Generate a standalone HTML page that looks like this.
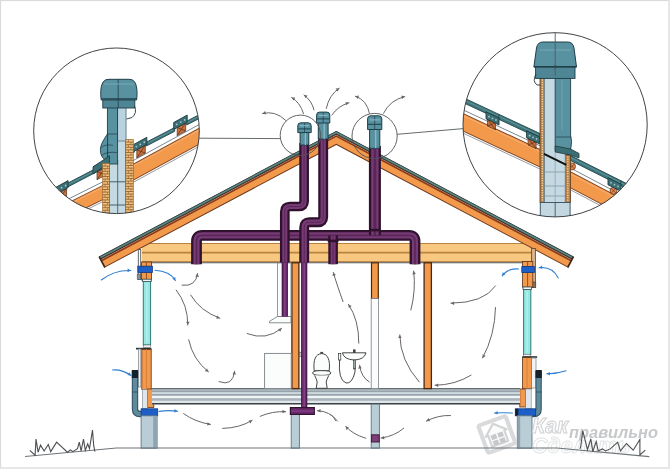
<!DOCTYPE html>
<html><head><meta charset="utf-8"><title>Ventilation diagram</title>
<style>html,body{margin:0;padding:0;background:#fff;width:670px;height:469px;overflow:hidden;font-family:"Liberation Sans",sans-serif}svg{display:block;filter:blur(0.45px)}</style>
</head><body>
<svg width="670" height="469" viewBox="0 0 670 469">
<rect x="0" y="0" width="670" height="469" fill="#ffffff"/>
<rect x="142" y="243" width="390.6" height="19.4" fill="#f9c880"/>
<line x1="142" y1="243.5" x2="532.6" y2="243.5" stroke="#b98240" stroke-width="1"/>
<line x1="142" y1="252.6" x2="532.6" y2="252.6" stroke="#b98240" stroke-width="1.6"/>
<line x1="142" y1="261.6" x2="532.6" y2="261.6" stroke="#b98240" stroke-width="1"/>
<line x1="142" y1="262.8" x2="532.6" y2="262.8" stroke="#50545a" stroke-width="1.1"/>
<line x1="532.4" y1="243" x2="532.4" y2="263" stroke="#b98240" stroke-width="1"/>
<polygon points="99.1,256.6 336.3,130.9 573.5,256.6 567.7,267.5 336.3,144.9 104.9,267.5" fill="#6b3a1e"/>
<polygon points="99.1,256.6 336.3,130.9 573.5,256.6 572.2,259 336.3,134 100.4,259" fill="#2a4648"/>
<polygon points="99.4,257.2 336.3,131.7 573.2,257.2 572.5,258.6 336.3,133.4 100.1,258.6" fill="#5f8886"/>
<polygon points="100.4,259 336.3,134 572.2,259 571.9,259.6 336.3,134.7 100.7,259.6" fill="#3b2a25"/>
<polygon points="100.7,259.6 336.3,134.7 571.9,259.6 571.6,260.2 336.3,135.5 101,260.2" fill="#d49c84"/>
<polygon points="101,260.2 336.3,135.5 571.6,260.2 570.9,261.5 336.3,137.2 101.7,261.5" fill="#8a3e1c"/>
<polygon points="101.7,261.5 336.3,137.1 570.9,261.5 568.2,266.7 336.3,143.8 104.4,266.7" fill="#f3994c"/>
<line x1="99.1" y1="256.6" x2="104.9" y2="267.5" stroke="#3a2418" stroke-width="1.6"/>
<line x1="573.5" y1="256.6" x2="567.7" y2="267.5" stroke="#3a2418" stroke-width="1.6"/>
<rect x="138.3" y="249.5" width="2.4" height="30" fill="#fafafa" stroke="#50575c" stroke-width="0.9"/>
<rect x="137.2" y="274" width="3.4" height="5.5" fill="#8a8f94" stroke="#4e5358" stroke-width="0.6"/>
<rect x="141.6" y="262" width="10" height="5" fill="#f3994c" stroke="#5a3018" stroke-width="0.8"/>
<rect x="141.6" y="272" width="10" height="8" fill="#f3994c" stroke="#5a3018" stroke-width="0.8"/>
<line x1="146.4" y1="262.3" x2="146.4" y2="266.2" stroke="#7a3e18" stroke-width="0.8"/>
<line x1="146.4" y1="272.5" x2="146.4" y2="279.5" stroke="#7a3e18" stroke-width="0.8"/>
<rect x="137.8" y="266.2" width="14.6" height="6.2" fill="#1d5fc6" stroke="#0e3b86" stroke-width="0.8"/>
<rect x="143.3" y="281" width="7.3" height="64" fill="#98e6e1" stroke="#2f7a79" stroke-width="1"/>
<line x1="146.9" y1="283" x2="146.9" y2="343" stroke="#b4f2ee" stroke-width="1.2"/>
<rect x="143.3" y="345" width="7.3" height="2.6" fill="#f6f8f8" stroke="#555" stroke-width="0.5"/>
<rect x="142.6" y="279.2" width="8.6" height="2.4" fill="#f4f7f7" stroke="#2d4d55" stroke-width="0.8"/>
<rect x="136" y="347.8" width="15.4" height="1.7" fill="#2e3236"/>
<rect x="141.8" y="349.5" width="9.4" height="40" fill="#f3994c" stroke="#5a3018" stroke-width="0.8"/>
<line x1="146.5" y1="349" x2="146.5" y2="389" stroke="#d27a36" stroke-width="0.8"/>
<rect x="138.4" y="349" width="2.4" height="38" fill="#f0f2f3" stroke="#7a8086" stroke-width="0.7"/>
<rect x="147.4" y="389" width="6.4" height="18.5" fill="#f3994c" stroke="#5a3018" stroke-width="0.8"/>
<rect x="142.4" y="389.5" width="5" height="19" fill="#dfe6ea" stroke="#7a8490" stroke-width="0.6"/>
<path d="M135,371 V409 Q135,414 140,414 H142" fill="none" stroke="#33566a" stroke-width="6.4" stroke-linejoin="round"/>
<path d="M135,371 V409 Q135,414 140,414 H142" fill="none" stroke="#5f8a9c" stroke-width="4.2"/>
<rect x="131.8" y="370" width="6.2" height="8" fill="#16222a"/>
<line x1="132" y1="392" x2="138" y2="392" stroke="#2a4a5a" stroke-width="0.8"/>
<rect x="141.1" y="408.8" width="16.6" height="7" fill="#1d5fc6" stroke="#0e3b86" stroke-width="0.8"/>
<rect x="141.1" y="415.8" width="16" height="32.4" fill="#b9cdd6" stroke="#5f7685" stroke-width="0.9"/>
<rect x="153.2" y="416.2" width="3.6" height="31.6" fill="#8fa3b1"/>
<rect x="531.6" y="248.5" width="3.8" height="38.8" fill="#d9b48e" stroke="#6b4a30" stroke-width="0.9"/>
<rect x="532.4" y="282" width="3.4" height="5.5" fill="#8a7060" stroke="#4e3a2a" stroke-width="0.6"/>
<rect x="522.6" y="261.4" width="10.2" height="5.2" fill="#f3994c" stroke="#5a3018" stroke-width="0.8"/>
<rect x="522.6" y="272.2" width="10.2" height="15" fill="#f3994c" stroke="#5a3018" stroke-width="0.8"/>
<line x1="527.6" y1="273" x2="527.6" y2="286.5" stroke="#7a3e18" stroke-width="0.8"/>
<line x1="527.6" y1="261.8" x2="527.6" y2="266.6" stroke="#7a3e18" stroke-width="0.8"/>
<rect x="521.8" y="266.6" width="12.6" height="5.8" fill="#1d5fc6" stroke="#0e3b86" stroke-width="0.8"/>
<rect x="523.6" y="289" width="7.2" height="65.5" fill="#98e6e1" stroke="#2f7a79" stroke-width="1"/>
<line x1="527.2" y1="291" x2="527.2" y2="352.5" stroke="#b4f2ee" stroke-width="1.2"/>
<rect x="523.6" y="354.2" width="7.2" height="2" fill="#f6f8f8" stroke="#555" stroke-width="0.5"/>
<rect x="523" y="287" width="8.4" height="2.4" fill="#f4f7f7" stroke="#2d4d55" stroke-width="0.8"/>
<rect x="522.2" y="356.2" width="15" height="1.6" fill="#2e3236"/>
<rect x="522.6" y="357.6" width="8.8" height="31.2" fill="#f3994c" stroke="#5a3018" stroke-width="0.8"/>
<line x1="527" y1="358" x2="527" y2="388" stroke="#d27a36" stroke-width="0.8"/>
<rect x="531.6" y="358" width="4.4" height="30" fill="#f0f2f3" stroke="#7a8086" stroke-width="0.7"/>
<rect x="519.8" y="389" width="5.8" height="18" fill="#f3994c" stroke="#5a3018" stroke-width="0.8"/>
<rect x="525.6" y="389" width="5.6" height="20" fill="#dfe6ea" stroke="#7a8490" stroke-width="0.6"/>
<path d="M538.6,371 V409 Q538.6,414 533.6,414 H532" fill="none" stroke="#33566a" stroke-width="6.4"/>
<path d="M538.6,371 V409 Q538.6,414 533.6,414 H532" fill="none" stroke="#5f8a9c" stroke-width="4.2"/>
<rect x="535.6" y="370" width="6.2" height="8" fill="#16222a"/>
<line x1="536" y1="392" x2="541.5" y2="392" stroke="#2a4a5a" stroke-width="0.8"/>
<rect x="515.3" y="408.8" width="20.4" height="7" fill="#1d5fc6" stroke="#0e3b86" stroke-width="0.8"/>
<rect x="515.3" y="408.8" width="3" height="7" fill="#152033"/>
<rect x="517.3" y="415.8" width="14.7" height="32.4" fill="#b9cdd6" stroke="#5f7685" stroke-width="0.9"/>
<rect x="517.6" y="416.2" width="2.6" height="31.6" fill="#8fa3b1"/>
<rect x="152" y="388.2" width="368" height="16.3" fill="#dfe6ea"/>
<line x1="152" y1="388.9" x2="520" y2="388.9" stroke="#3a4448" stroke-width="1.3"/>
<line x1="152" y1="390.2" x2="520" y2="390.2" stroke="#d5dde1" stroke-width="1.0"/>
<line x1="152" y1="391.1" x2="520" y2="391.1" stroke="#7f8c94" stroke-width="1.2"/>
<line x1="152" y1="392.9" x2="520" y2="392.9" stroke="#c8d4da" stroke-width="1.8"/>
<line x1="152" y1="394.9" x2="520" y2="394.9" stroke="#9aa6ae" stroke-width="1.8"/>
<line x1="152" y1="397" x2="520" y2="397" stroke="#f2f5f6" stroke-width="1.8"/>
<line x1="152" y1="399.5" x2="520" y2="399.5" stroke="#a8b2b8" stroke-width="2.6"/>
<line x1="152" y1="401.8" x2="520" y2="401.8" stroke="#e0e6e8" stroke-width="1.2"/>
<line x1="152" y1="403.7" x2="520" y2="403.7" stroke="#3c4448" stroke-width="1.5"/>
<rect x="291.9" y="262.8" width="7" height="125.8" fill="#f3994c" stroke="#4a2810" stroke-width="1.3"/>
<rect x="371.5" y="262.8" width="6.8" height="35.8" fill="#f3994c" stroke="#4a2810" stroke-width="1.2"/>
<rect x="371.2" y="298.6" width="7.2" height="90" fill="#fbfcfc" stroke="#7b8187" stroke-width="0.8"/>
<rect x="424.1" y="262.8" width="7.3" height="125.8" fill="#f3994c" stroke="#4a2810" stroke-width="1.3"/>
<rect x="277.4" y="263" width="13.6" height="53.5" fill="#fbfcfc" stroke="#7b8187" stroke-width="0.8"/>
<path d="M277.4,316.5 L269.4,321.4 L269.4,322.8 L291,322.8 L291,316.5 Z" fill="#fbfcfc" stroke="#6b7177" stroke-width="0.8"/>
<rect x="264.6" y="353.4" width="26.6" height="35.2" fill="#fbfcfc" stroke="#7b8187" stroke-width="0.9"/>
<path d="M314.2,370.8 C313,360 315.5,353.8 321.7,353.6 C327.9,353.8 330.4,360 329.2,370.8 Z" fill="#fbfcfc" stroke="#333" stroke-width="0.9"/>
<rect x="320.3" y="351.9" width="2.8" height="1.8" fill="#444"/>
<path d="M312.6,372.9 Q312.6,370.6 321.7,370.6 Q330.8,370.6 330.8,372.9 Q330.8,375.4 321.7,375.4 Q312.6,375.4 312.6,372.9 Z" fill="#fbfcfc" stroke="#333" stroke-width="0.9"/>
<path d="M314.6,375.4 Q316.8,379.5 317.2,382 L316.2,388.3 L327.2,388.3 L326.2,382 Q326.6,379.5 328.8,375.4" fill="#fbfcfc" stroke="#333" stroke-width="0.9"/>
<rect x="299.6" y="352.2" width="3.6" height="4.2" fill="#c9cfd3" stroke="#555" stroke-width="0.6"/>
<path d="M342.4,352.8 L366,352.8 Q364.4,359.6 354.2,360 Q344,359.6 342.4,352.8 Z" fill="#fbfcfc" stroke="#333" stroke-width="0.9"/>
<rect x="353" y="349.4" width="2.6" height="3.6" fill="#444"/>
<rect x="353.6" y="360" width="2" height="9" fill="#9aa" stroke="#333" stroke-width="0.6"/>
<rect x="338.4" y="353.4" width="2.4" height="6.6" fill="#fbfcfc" stroke="#333" stroke-width="0.7"/>
<path d="M339.6,360 Q338,380 346,383 Q352,384 355,372 L355,368" fill="none" stroke="#333" stroke-width="0.9"/>
<rect x="291.2" y="414.4" width="8.2" height="33.8" fill="#b9cdd6" stroke="#5f7685" stroke-width="0.9"/>
<rect x="371.2" y="404.2" width="8.2" height="44" fill="#b9cdd6" stroke="#5f7685" stroke-width="0.9"/>
<rect x="371.4" y="434.8" width="7.8" height="7.2" fill="#7e3c78" stroke="#3a1838" stroke-width="0.9"/>
<path d="M284.8,262 V316.5" fill="none" stroke="#3a1440" stroke-width="6.2"/>
<path d="M284.8,262 V316.5" fill="none" stroke="#692a6c" stroke-width="4.4"/>
<path d="M284.8,262 V316.5" fill="none" stroke="#94529a" stroke-width="1.2" opacity="0.7"/>
<path d="M304.2,262 V408" fill="none" stroke="#3a1440" stroke-width="6.2"/>
<path d="M304.2,262 V408" fill="none" stroke="#692a6c" stroke-width="4.4"/>
<path d="M304.2,262 V408" fill="none" stroke="#94529a" stroke-width="1.2" opacity="0.7"/>
<path d="M196.5,264.2 V241 Q196.5,235.4 202.3,235.4 H409.2 Q415,235.4 415,241 V264.2" fill="none" stroke="#30112e" stroke-width="10.8" stroke-linejoin="round"/>
<path d="M196.5,264.2 V241 Q196.5,235.4 202.3,235.4 H409.2 Q415,235.4 415,241 V264.2" fill="none" stroke="#763a74" stroke-width="6.200000000000001" stroke-linejoin="round"/>
<path d="M196.5,264.2 V241 Q196.5,235.4 202.3,235.4 H409.2 Q415,235.4 415,241 V264.2" fill="none" stroke="#5a2657" stroke-width="1.6000000000000014" stroke-linejoin="round"/>
<path d="M333.1,235.4 V264.2" fill="none" stroke="#30112e" stroke-width="9.6" stroke-linejoin="round"/>
<path d="M333.1,235.4 V264.2" fill="none" stroke="#763a74" stroke-width="5.0" stroke-linejoin="round"/>
<path d="M333.1,235.4 V264.2" fill="none" stroke="#5a2657" stroke-width="1.0" stroke-linejoin="round"/>
<path d="M374.9,146 V235.2" fill="none" stroke="#30112e" stroke-width="12" stroke-linejoin="round"/>
<path d="M374.9,146 V235.2" fill="none" stroke="#763a74" stroke-width="7.4" stroke-linejoin="round"/>
<path d="M374.9,146 V235.2" fill="none" stroke="#5a2657" stroke-width="2.8000000000000007" stroke-linejoin="round"/>
<path d="M323.2,137 V217 Q323.2,222.2 318,222.2 H309.4 Q304.2,222.2 304.2,227.4 V262.6" fill="none" stroke="#30112e" stroke-width="9.9" stroke-linejoin="round"/>
<path d="M323.2,137 V217 Q323.2,222.2 318,222.2 H309.4 Q304.2,222.2 304.2,227.4 V262.6" fill="none" stroke="#763a74" stroke-width="5.300000000000001" stroke-linejoin="round"/>
<path d="M323.2,137 V217 Q323.2,222.2 318,222.2 H309.4 Q304.2,222.2 304.2,227.4 V262.6" fill="none" stroke="#5a2657" stroke-width="1.0" stroke-linejoin="round"/>
<path d="M304.1,143 V201.3 Q304.1,206.5 298.9,206.5 H290 Q284.8,206.5 284.8,211.7 V262.6" fill="none" stroke="#30112e" stroke-width="9.7" stroke-linejoin="round"/>
<path d="M304.1,143 V201.3 Q304.1,206.5 298.9,206.5 H290 Q284.8,206.5 284.8,211.7 V262.6" fill="none" stroke="#763a74" stroke-width="5.1" stroke-linejoin="round"/>
<path d="M304.1,143 V201.3 Q304.1,206.5 298.9,206.5 H290 Q284.8,206.5 284.8,211.7 V262.6" fill="none" stroke="#5a2657" stroke-width="1.0" stroke-linejoin="round"/>
<rect x="369.3" y="228.8" width="11" height="2.6" fill="#30112e"/>
<rect x="327.7" y="239.6" width="10.8" height="2.6" fill="#30112e"/>
<rect x="290.4" y="407.6" width="23.9" height="6.8" fill="#692a6c" stroke="#30112e" stroke-width="1.2"/>
<line x1="291" y1="411" x2="314" y2="411" stroke="#94529a" stroke-width="0.8"/>
<rect x="300.1" y="131.6" width="8.7" height="13.4" fill="#5892a1" stroke="#1f3e47" stroke-width="1"/>
<line x1="305.4" y1="132.6" x2="305.4" y2="145" stroke="#8fbcc8" stroke-width="1.2"/>
<path d="M297.8,132.6 V125.8 Q297.8,122.8 300.8,122.8 H308.2 Q311.2,122.8 311.2,125.8 V132.6 Z" fill="#5892a1" stroke="#1f3e47" stroke-width="1"/>
<line x1="298.3" y1="128.9" x2="310.7" y2="128.9" stroke="#1f3e47" stroke-width="1"/>
<line x1="304.5" y1="123.3" x2="304.5" y2="132.6" stroke="#1f3e47" stroke-width="0.7"/>
<line x1="299.8" y1="125.7" x2="309.2" y2="125.7" stroke="#8fbcc8" stroke-width="1"/>
<rect x="318.3" y="122" width="9.8" height="17" fill="#5892a1" stroke="#1f3e47" stroke-width="1"/>
<line x1="324.2" y1="123" x2="324.2" y2="139" stroke="#8fbcc8" stroke-width="1.2"/>
<path d="M316.6,123 V115.1 Q316.6,112.1 319.6,112.1 H326.8 Q329.8,112.1 329.8,115.1 V123 Z" fill="#5892a1" stroke="#1f3e47" stroke-width="1"/>
<line x1="317.1" y1="118.9" x2="329.2" y2="118.9" stroke="#1f3e47" stroke-width="1"/>
<line x1="323.2" y1="112.6" x2="323.2" y2="123" stroke="#1f3e47" stroke-width="0.7"/>
<line x1="318.6" y1="115.4" x2="327.8" y2="115.4" stroke="#8fbcc8" stroke-width="1"/>
<rect x="369.6" y="128.5" width="10.2" height="19.8" fill="#5892a1" stroke="#1f3e47" stroke-width="1"/>
<line x1="375.7" y1="129.5" x2="375.7" y2="148.3" stroke="#8fbcc8" stroke-width="1.2"/>
<path d="M367.6,129.5 V118.8 Q367.6,115.8 370.6,115.8 H378.8 Q381.8,115.8 381.8,118.8 V129.5 Z" fill="#5892a1" stroke="#1f3e47" stroke-width="1"/>
<line x1="368.1" y1="124.3" x2="381.3" y2="124.3" stroke="#1f3e47" stroke-width="1"/>
<line x1="374.7" y1="116.3" x2="374.7" y2="129.5" stroke="#1f3e47" stroke-width="0.7"/>
<line x1="369.6" y1="119.9" x2="379.8" y2="119.9" stroke="#8fbcc8" stroke-width="1"/>
<line x1="199.2" y1="138.2" x2="280.2" y2="138.6" stroke="#555a5e" stroke-width="0.9"/>
<line x1="397.2" y1="134.3" x2="463.4" y2="128.6" stroke="#555a5e" stroke-width="0.9"/>
<circle cx="300.4" cy="135.3" r="20.2" fill="none" stroke="#4f5458" stroke-width="0.9"/>
<circle cx="374.6" cy="136" r="22.6" fill="none" stroke="#4f5458" stroke-width="0.9"/>
<clipPath id="cl"><circle cx="116.5" cy="130.8" r="82.8"/></clipPath>
<circle cx="116.5" cy="130.8" r="82.8" fill="#ffffff"/>
<g clip-path="url(#cl)">
<polygon points="20,226.4 112,180.4 112,195.4 20,241.4" fill="#7a4220"/>
<polygon points="20,227.3 112,181.3 112,194.4 20,240.4" fill="#f3994c"/>
<line x1="20" y1="228.8" x2="112" y2="182.8" stroke="#f6b27a" stroke-width="0.9"/>
<line x1="20" y1="243" x2="112" y2="197" stroke="#8d8f92" stroke-width="0.9"/>
<line x1="20" y1="223.2" x2="112" y2="177.2" stroke="#7d878d" stroke-width="1.0"/>
<polygon points="118,172.1 210,121.8 210,138.8 118,189.1" fill="#7a4220"/>
<polygon points="118,173 210,122.7 210,137.8 118,188.1" fill="#f3994c"/>
<line x1="118" y1="174.5" x2="210" y2="124.2" stroke="#f6b27a" stroke-width="0.9"/>
<line x1="118" y1="190.7" x2="210" y2="140.4" stroke="#8d8f92" stroke-width="0.9"/>
<line x1="118" y1="168.9" x2="210" y2="118.6" stroke="#7d878d" stroke-width="1.0"/>
<polygon points="27.2,204.2 55.6,189.4 55.6,193.2 27.2,208" fill="#3f767c" stroke="#23474b" stroke-width="0.9"/>
<line x1="27.2" y1="205.8" x2="55.6" y2="191" stroke="#6f9fa6" stroke-width="0.7"/>
<polygon points="67.6,183.2 94.5,169.2 94.5,173 67.6,187" fill="#3f767c" stroke="#23474b" stroke-width="0.9"/>
<line x1="67.6" y1="184.8" x2="94.5" y2="170.8" stroke="#6f9fa6" stroke-width="0.7"/>
<polygon points="106.5,162.9 134.3,148.5 134.3,152.3 106.5,166.7" fill="#3f767c" stroke="#23474b" stroke-width="0.9"/>
<line x1="106.5" y1="164.5" x2="134.3" y2="150.1" stroke="#6f9fa6" stroke-width="0.7"/>
<polygon points="146.3,142.2 174.7,127.5 174.7,131.3 146.3,146" fill="#3f767c" stroke="#23474b" stroke-width="0.9"/>
<line x1="146.3" y1="143.8" x2="174.7" y2="129.1" stroke="#6f9fa6" stroke-width="0.7"/>
<polygon points="186.7,121.2 215.1,106.5 215.1,110.3 186.7,125" fill="#3f767c" stroke="#23474b" stroke-width="0.9"/>
<line x1="186.7" y1="122.8" x2="215.1" y2="108.1" stroke="#6f9fa6" stroke-width="0.7"/>
<polygon points="17.7,215.3 26.2,210.6 26.2,218.6 17.7,223.3" fill="#c8703e" stroke="#5e2e14" stroke-width="0.7"/>
<line x1="17.7" y1="215.3" x2="26.2" y2="218.6" stroke="#5e2e14" stroke-width="0.7"/>
<line x1="26.2" y1="210.6" x2="17.7" y2="223.3" stroke="#5e2e14" stroke-width="0.7"/>
<polygon points="14.2,210.2 27.7,202.8 27.7,209.8 14.2,217.2" fill="#3c6f75" stroke="#1d3a3e" stroke-width="0.9"/>
<circle cx="17.2" cy="212.1" r="0.9" fill="#a8c4c8"/>
<circle cx="21.2" cy="209.9" r="0.9" fill="#a8c4c8"/>
<circle cx="25.2" cy="207.7" r="0.9" fill="#a8c4c8"/>
<polygon points="58.1,193.1 66.6,188.4 66.6,196.4 58.1,201.1" fill="#c8703e" stroke="#5e2e14" stroke-width="0.7"/>
<line x1="58.1" y1="193.1" x2="66.6" y2="196.4" stroke="#5e2e14" stroke-width="0.7"/>
<line x1="66.6" y1="188.4" x2="58.1" y2="201.1" stroke="#5e2e14" stroke-width="0.7"/>
<polygon points="54.6,188 68.1,180.6 68.1,187.6 54.6,195" fill="#3c6f75" stroke="#1d3a3e" stroke-width="0.9"/>
<circle cx="57.6" cy="189.8" r="0.9" fill="#a8c4c8"/>
<circle cx="61.6" cy="187.7" r="0.9" fill="#a8c4c8"/>
<circle cx="65.6" cy="185.5" r="0.9" fill="#a8c4c8"/>
<polygon points="97,171.7 105.5,167 105.5,175 97,179.7" fill="#c8703e" stroke="#5e2e14" stroke-width="0.7"/>
<line x1="97" y1="171.7" x2="105.5" y2="175" stroke="#5e2e14" stroke-width="0.7"/>
<line x1="105.5" y1="167" x2="97" y2="179.7" stroke="#5e2e14" stroke-width="0.7"/>
<polygon points="93.5,166.6 107,159.2 107,166.2 93.5,173.6" fill="#3c6f75" stroke="#1d3a3e" stroke-width="0.9"/>
<circle cx="96.5" cy="168.5" r="0.9" fill="#a8c4c8"/>
<circle cx="100.5" cy="166.3" r="0.9" fill="#a8c4c8"/>
<circle cx="104.5" cy="164.1" r="0.9" fill="#a8c4c8"/>
<polygon points="136.8,149.8 145.3,145.1 145.3,153.1 136.8,157.8" fill="#c8703e" stroke="#5e2e14" stroke-width="0.7"/>
<line x1="136.8" y1="149.8" x2="145.3" y2="153.1" stroke="#5e2e14" stroke-width="0.7"/>
<line x1="145.3" y1="145.1" x2="136.8" y2="157.8" stroke="#5e2e14" stroke-width="0.7"/>
<polygon points="133.3,144.7 146.8,137.3 146.8,144.3 133.3,151.7" fill="#3c6f75" stroke="#1d3a3e" stroke-width="0.9"/>
<circle cx="136.3" cy="146.6" r="0.9" fill="#a8c4c8"/>
<circle cx="140.3" cy="144.4" r="0.9" fill="#a8c4c8"/>
<circle cx="144.3" cy="142.2" r="0.9" fill="#a8c4c8"/>
<polygon points="177.2,127.6 185.7,122.9 185.7,130.9 177.2,135.6" fill="#c8703e" stroke="#5e2e14" stroke-width="0.7"/>
<line x1="177.2" y1="127.6" x2="185.7" y2="130.9" stroke="#5e2e14" stroke-width="0.7"/>
<line x1="185.7" y1="122.9" x2="177.2" y2="135.6" stroke="#5e2e14" stroke-width="0.7"/>
<polygon points="173.7,122.5 187.2,115.1 187.2,122.1 173.7,129.5" fill="#3c6f75" stroke="#1d3a3e" stroke-width="0.9"/>
<circle cx="176.7" cy="124.3" r="0.9" fill="#a8c4c8"/>
<circle cx="180.7" cy="122.1" r="0.9" fill="#a8c4c8"/>
<circle cx="184.7" cy="119.9" r="0.9" fill="#a8c4c8"/>
<rect x="109.5" y="100" width="16.2" height="130" fill="#c5d9e3" stroke="#34525e" stroke-width="0.9"/>
<line x1="109.5" y1="181.8" x2="125.7" y2="181.8" stroke="#34525e" stroke-width="0.9"/>
<line x1="109.5" y1="205" x2="125.7" y2="205" stroke="#34525e" stroke-width="0.9"/>
<line x1="117.7" y1="160" x2="117.7" y2="230" stroke="#34525e" stroke-width="0.8"/>
<rect x="117.4" y="106" width="8.6" height="35" fill="#b9d3de" stroke="#4c6872" stroke-width="0.7"/>
<rect x="107.4" y="106" width="10.2" height="58" fill="#5892a1" stroke="#1f3e47" stroke-width="0.9"/>
<line x1="107.8" y1="134" x2="117.2" y2="134" stroke="#1f3e47" stroke-width="0.7"/>
<path d="M107.6,133.6 C104.5,139 100.2,144 100.4,150.5 C100.6,156.5 104,160 107.6,161 Z" fill="#5892a1" stroke="#1f3e47" stroke-width="0.9"/>
<path d="M101.5,147.5 Q106,143.5 113,145.5" fill="none" stroke="#1f3e47" stroke-width="0.7"/>
<path d="M102,155 Q107,151.5 117,152.5" fill="none" stroke="#1f3e47" stroke-width="0.7"/>
<polygon points="93,166.9 109.5,155.8 109.5,162.8 93,173.9" fill="#3c6f75" stroke="#1d3a3e" stroke-width="0.8"/>
<rect x="102.7" y="163.5" width="6.8" height="66.5" fill="#eec07c" stroke="#9a6a38" stroke-width="0.7"/>
<line x1="102.7" y1="166.1" x2="109.5" y2="166.1" stroke="#8e5a2a" stroke-width="0.8"/>
<line x1="105.1" y1="163.5" x2="105.1" y2="166.1" stroke="#8e5a2a" stroke-width="0.6"/>
<line x1="102.7" y1="168.7" x2="109.5" y2="168.7" stroke="#8e5a2a" stroke-width="0.8"/>
<line x1="107.5" y1="166.1" x2="107.5" y2="168.7" stroke="#8e5a2a" stroke-width="0.6"/>
<line x1="102.7" y1="171.3" x2="109.5" y2="171.3" stroke="#8e5a2a" stroke-width="0.8"/>
<line x1="105.1" y1="168.7" x2="105.1" y2="171.3" stroke="#8e5a2a" stroke-width="0.6"/>
<line x1="102.7" y1="173.9" x2="109.5" y2="173.9" stroke="#8e5a2a" stroke-width="0.8"/>
<line x1="107.5" y1="171.3" x2="107.5" y2="173.9" stroke="#8e5a2a" stroke-width="0.6"/>
<line x1="102.7" y1="176.5" x2="109.5" y2="176.5" stroke="#8e5a2a" stroke-width="0.8"/>
<line x1="105.1" y1="173.9" x2="105.1" y2="176.5" stroke="#8e5a2a" stroke-width="0.6"/>
<line x1="102.7" y1="179.1" x2="109.5" y2="179.1" stroke="#8e5a2a" stroke-width="0.8"/>
<line x1="107.5" y1="176.5" x2="107.5" y2="179.1" stroke="#8e5a2a" stroke-width="0.6"/>
<line x1="102.7" y1="181.7" x2="109.5" y2="181.7" stroke="#8e5a2a" stroke-width="0.8"/>
<line x1="105.1" y1="179.1" x2="105.1" y2="181.7" stroke="#8e5a2a" stroke-width="0.6"/>
<line x1="102.7" y1="184.3" x2="109.5" y2="184.3" stroke="#8e5a2a" stroke-width="0.8"/>
<line x1="107.5" y1="181.7" x2="107.5" y2="184.3" stroke="#8e5a2a" stroke-width="0.6"/>
<line x1="102.7" y1="186.9" x2="109.5" y2="186.9" stroke="#8e5a2a" stroke-width="0.8"/>
<line x1="105.1" y1="184.3" x2="105.1" y2="186.9" stroke="#8e5a2a" stroke-width="0.6"/>
<line x1="102.7" y1="189.5" x2="109.5" y2="189.5" stroke="#8e5a2a" stroke-width="0.8"/>
<line x1="107.5" y1="186.9" x2="107.5" y2="189.5" stroke="#8e5a2a" stroke-width="0.6"/>
<line x1="102.7" y1="192.1" x2="109.5" y2="192.1" stroke="#8e5a2a" stroke-width="0.8"/>
<line x1="105.1" y1="189.5" x2="105.1" y2="192.1" stroke="#8e5a2a" stroke-width="0.6"/>
<line x1="102.7" y1="194.7" x2="109.5" y2="194.7" stroke="#8e5a2a" stroke-width="0.8"/>
<line x1="107.5" y1="192.1" x2="107.5" y2="194.7" stroke="#8e5a2a" stroke-width="0.6"/>
<line x1="102.7" y1="197.3" x2="109.5" y2="197.3" stroke="#8e5a2a" stroke-width="0.8"/>
<line x1="105.1" y1="194.7" x2="105.1" y2="197.3" stroke="#8e5a2a" stroke-width="0.6"/>
<line x1="102.7" y1="199.9" x2="109.5" y2="199.9" stroke="#8e5a2a" stroke-width="0.8"/>
<line x1="107.5" y1="197.3" x2="107.5" y2="199.9" stroke="#8e5a2a" stroke-width="0.6"/>
<line x1="102.7" y1="202.5" x2="109.5" y2="202.5" stroke="#8e5a2a" stroke-width="0.8"/>
<line x1="105.1" y1="199.9" x2="105.1" y2="202.5" stroke="#8e5a2a" stroke-width="0.6"/>
<line x1="102.7" y1="205.1" x2="109.5" y2="205.1" stroke="#8e5a2a" stroke-width="0.8"/>
<line x1="107.5" y1="202.5" x2="107.5" y2="205.1" stroke="#8e5a2a" stroke-width="0.6"/>
<line x1="102.7" y1="207.7" x2="109.5" y2="207.7" stroke="#8e5a2a" stroke-width="0.8"/>
<line x1="105.1" y1="205.1" x2="105.1" y2="207.7" stroke="#8e5a2a" stroke-width="0.6"/>
<line x1="102.7" y1="210.3" x2="109.5" y2="210.3" stroke="#8e5a2a" stroke-width="0.8"/>
<line x1="107.5" y1="207.7" x2="107.5" y2="210.3" stroke="#8e5a2a" stroke-width="0.6"/>
<line x1="102.7" y1="212.9" x2="109.5" y2="212.9" stroke="#8e5a2a" stroke-width="0.8"/>
<line x1="105.1" y1="210.3" x2="105.1" y2="212.9" stroke="#8e5a2a" stroke-width="0.6"/>
<line x1="102.7" y1="215.5" x2="109.5" y2="215.5" stroke="#8e5a2a" stroke-width="0.8"/>
<line x1="107.5" y1="212.9" x2="107.5" y2="215.5" stroke="#8e5a2a" stroke-width="0.6"/>
<line x1="102.7" y1="218.1" x2="109.5" y2="218.1" stroke="#8e5a2a" stroke-width="0.8"/>
<line x1="105.1" y1="215.5" x2="105.1" y2="218.1" stroke="#8e5a2a" stroke-width="0.6"/>
<line x1="102.7" y1="220.7" x2="109.5" y2="220.7" stroke="#8e5a2a" stroke-width="0.8"/>
<line x1="107.5" y1="218.1" x2="107.5" y2="220.7" stroke="#8e5a2a" stroke-width="0.6"/>
<line x1="102.7" y1="223.3" x2="109.5" y2="223.3" stroke="#8e5a2a" stroke-width="0.8"/>
<line x1="105.1" y1="220.7" x2="105.1" y2="223.3" stroke="#8e5a2a" stroke-width="0.6"/>
<line x1="102.7" y1="225.9" x2="109.5" y2="225.9" stroke="#8e5a2a" stroke-width="0.8"/>
<line x1="107.5" y1="223.3" x2="107.5" y2="225.9" stroke="#8e5a2a" stroke-width="0.6"/>
<line x1="102.7" y1="228.5" x2="109.5" y2="228.5" stroke="#8e5a2a" stroke-width="0.8"/>
<line x1="105.1" y1="225.9" x2="105.1" y2="228.5" stroke="#8e5a2a" stroke-width="0.6"/>
<rect x="125.7" y="139.5" width="7.6" height="90.5" fill="#eec07c" stroke="#9a6a38" stroke-width="0.7"/>
<line x1="125.7" y1="142.1" x2="133.3" y2="142.1" stroke="#8e5a2a" stroke-width="0.8"/>
<line x1="128.4" y1="139.5" x2="128.4" y2="142.1" stroke="#8e5a2a" stroke-width="0.6"/>
<line x1="125.7" y1="144.7" x2="133.3" y2="144.7" stroke="#8e5a2a" stroke-width="0.8"/>
<line x1="131" y1="142.1" x2="131" y2="144.7" stroke="#8e5a2a" stroke-width="0.6"/>
<line x1="125.7" y1="147.3" x2="133.3" y2="147.3" stroke="#8e5a2a" stroke-width="0.8"/>
<line x1="128.4" y1="144.7" x2="128.4" y2="147.3" stroke="#8e5a2a" stroke-width="0.6"/>
<line x1="125.7" y1="149.9" x2="133.3" y2="149.9" stroke="#8e5a2a" stroke-width="0.8"/>
<line x1="131" y1="147.3" x2="131" y2="149.9" stroke="#8e5a2a" stroke-width="0.6"/>
<line x1="125.7" y1="152.5" x2="133.3" y2="152.5" stroke="#8e5a2a" stroke-width="0.8"/>
<line x1="128.4" y1="149.9" x2="128.4" y2="152.5" stroke="#8e5a2a" stroke-width="0.6"/>
<line x1="125.7" y1="155.1" x2="133.3" y2="155.1" stroke="#8e5a2a" stroke-width="0.8"/>
<line x1="131" y1="152.5" x2="131" y2="155.1" stroke="#8e5a2a" stroke-width="0.6"/>
<line x1="125.7" y1="157.7" x2="133.3" y2="157.7" stroke="#8e5a2a" stroke-width="0.8"/>
<line x1="128.4" y1="155.1" x2="128.4" y2="157.7" stroke="#8e5a2a" stroke-width="0.6"/>
<line x1="125.7" y1="160.3" x2="133.3" y2="160.3" stroke="#8e5a2a" stroke-width="0.8"/>
<line x1="131" y1="157.7" x2="131" y2="160.3" stroke="#8e5a2a" stroke-width="0.6"/>
<line x1="125.7" y1="162.9" x2="133.3" y2="162.9" stroke="#8e5a2a" stroke-width="0.8"/>
<line x1="128.4" y1="160.3" x2="128.4" y2="162.9" stroke="#8e5a2a" stroke-width="0.6"/>
<line x1="125.7" y1="165.5" x2="133.3" y2="165.5" stroke="#8e5a2a" stroke-width="0.8"/>
<line x1="131" y1="162.9" x2="131" y2="165.5" stroke="#8e5a2a" stroke-width="0.6"/>
<line x1="125.7" y1="168.1" x2="133.3" y2="168.1" stroke="#8e5a2a" stroke-width="0.8"/>
<line x1="128.4" y1="165.5" x2="128.4" y2="168.1" stroke="#8e5a2a" stroke-width="0.6"/>
<line x1="125.7" y1="170.7" x2="133.3" y2="170.7" stroke="#8e5a2a" stroke-width="0.8"/>
<line x1="131" y1="168.1" x2="131" y2="170.7" stroke="#8e5a2a" stroke-width="0.6"/>
<line x1="125.7" y1="173.3" x2="133.3" y2="173.3" stroke="#8e5a2a" stroke-width="0.8"/>
<line x1="128.4" y1="170.7" x2="128.4" y2="173.3" stroke="#8e5a2a" stroke-width="0.6"/>
<line x1="125.7" y1="175.9" x2="133.3" y2="175.9" stroke="#8e5a2a" stroke-width="0.8"/>
<line x1="131" y1="173.3" x2="131" y2="175.9" stroke="#8e5a2a" stroke-width="0.6"/>
<line x1="125.7" y1="178.5" x2="133.3" y2="178.5" stroke="#8e5a2a" stroke-width="0.8"/>
<line x1="128.4" y1="175.9" x2="128.4" y2="178.5" stroke="#8e5a2a" stroke-width="0.6"/>
<line x1="125.7" y1="181.1" x2="133.3" y2="181.1" stroke="#8e5a2a" stroke-width="0.8"/>
<line x1="131" y1="178.5" x2="131" y2="181.1" stroke="#8e5a2a" stroke-width="0.6"/>
<line x1="125.7" y1="183.7" x2="133.3" y2="183.7" stroke="#8e5a2a" stroke-width="0.8"/>
<line x1="128.4" y1="181.1" x2="128.4" y2="183.7" stroke="#8e5a2a" stroke-width="0.6"/>
<line x1="125.7" y1="186.3" x2="133.3" y2="186.3" stroke="#8e5a2a" stroke-width="0.8"/>
<line x1="131" y1="183.7" x2="131" y2="186.3" stroke="#8e5a2a" stroke-width="0.6"/>
<line x1="125.7" y1="188.9" x2="133.3" y2="188.9" stroke="#8e5a2a" stroke-width="0.8"/>
<line x1="128.4" y1="186.3" x2="128.4" y2="188.9" stroke="#8e5a2a" stroke-width="0.6"/>
<line x1="125.7" y1="191.5" x2="133.3" y2="191.5" stroke="#8e5a2a" stroke-width="0.8"/>
<line x1="131" y1="188.9" x2="131" y2="191.5" stroke="#8e5a2a" stroke-width="0.6"/>
<line x1="125.7" y1="194.1" x2="133.3" y2="194.1" stroke="#8e5a2a" stroke-width="0.8"/>
<line x1="128.4" y1="191.5" x2="128.4" y2="194.1" stroke="#8e5a2a" stroke-width="0.6"/>
<line x1="125.7" y1="196.7" x2="133.3" y2="196.7" stroke="#8e5a2a" stroke-width="0.8"/>
<line x1="131" y1="194.1" x2="131" y2="196.7" stroke="#8e5a2a" stroke-width="0.6"/>
<line x1="125.7" y1="199.3" x2="133.3" y2="199.3" stroke="#8e5a2a" stroke-width="0.8"/>
<line x1="128.4" y1="196.7" x2="128.4" y2="199.3" stroke="#8e5a2a" stroke-width="0.6"/>
<line x1="125.7" y1="201.9" x2="133.3" y2="201.9" stroke="#8e5a2a" stroke-width="0.8"/>
<line x1="131" y1="199.3" x2="131" y2="201.9" stroke="#8e5a2a" stroke-width="0.6"/>
<line x1="125.7" y1="204.5" x2="133.3" y2="204.5" stroke="#8e5a2a" stroke-width="0.8"/>
<line x1="128.4" y1="201.9" x2="128.4" y2="204.5" stroke="#8e5a2a" stroke-width="0.6"/>
<line x1="125.7" y1="207.1" x2="133.3" y2="207.1" stroke="#8e5a2a" stroke-width="0.8"/>
<line x1="131" y1="204.5" x2="131" y2="207.1" stroke="#8e5a2a" stroke-width="0.6"/>
<line x1="125.7" y1="209.7" x2="133.3" y2="209.7" stroke="#8e5a2a" stroke-width="0.8"/>
<line x1="128.4" y1="207.1" x2="128.4" y2="209.7" stroke="#8e5a2a" stroke-width="0.6"/>
<line x1="125.7" y1="212.3" x2="133.3" y2="212.3" stroke="#8e5a2a" stroke-width="0.8"/>
<line x1="131" y1="209.7" x2="131" y2="212.3" stroke="#8e5a2a" stroke-width="0.6"/>
<line x1="125.7" y1="214.9" x2="133.3" y2="214.9" stroke="#8e5a2a" stroke-width="0.8"/>
<line x1="128.4" y1="212.3" x2="128.4" y2="214.9" stroke="#8e5a2a" stroke-width="0.6"/>
<line x1="125.7" y1="217.5" x2="133.3" y2="217.5" stroke="#8e5a2a" stroke-width="0.8"/>
<line x1="131" y1="214.9" x2="131" y2="217.5" stroke="#8e5a2a" stroke-width="0.6"/>
<line x1="125.7" y1="220.1" x2="133.3" y2="220.1" stroke="#8e5a2a" stroke-width="0.8"/>
<line x1="128.4" y1="217.5" x2="128.4" y2="220.1" stroke="#8e5a2a" stroke-width="0.6"/>
<line x1="125.7" y1="222.7" x2="133.3" y2="222.7" stroke="#8e5a2a" stroke-width="0.8"/>
<line x1="131" y1="220.1" x2="131" y2="222.7" stroke="#8e5a2a" stroke-width="0.6"/>
<line x1="125.7" y1="225.3" x2="133.3" y2="225.3" stroke="#8e5a2a" stroke-width="0.8"/>
<line x1="128.4" y1="222.7" x2="128.4" y2="225.3" stroke="#8e5a2a" stroke-width="0.6"/>
<line x1="125.7" y1="227.9" x2="133.3" y2="227.9" stroke="#8e5a2a" stroke-width="0.8"/>
<line x1="131" y1="225.3" x2="131" y2="227.9" stroke="#8e5a2a" stroke-width="0.6"/>
<path d="M101.2,100 C100.2,92 100.8,85 103.5,81.5 Q105,79.3 109,79.3 H128.8 Q132.8,79.3 134.3,81.5 C137,85 137.6,92 136.6,100 Z" fill="#5892a1" stroke="#1f3e47" stroke-width="1"/>
<rect x="102.8" y="100" width="32" height="8" fill="#4f8696" stroke="#1f3e47" stroke-width="0.9"/>
<line x1="118.2" y1="79" x2="118.2" y2="108" stroke="#1f3e47" stroke-width="0.8"/>
<line x1="101.5" y1="98.6" x2="136.5" y2="98.6" stroke="#1f3e47" stroke-width="0.8"/>
<line x1="104" y1="84" x2="134" y2="84" stroke="#79a9b6" stroke-width="1"/>
<path d="M134.5,106 Q137.5,113 132,117.5 L126.5,119" fill="none" stroke="#24363c" stroke-width="0.9"/>
</g>
<circle cx="116.5" cy="130.8" r="82.8" fill="none" stroke="#3f4448" stroke-width="1"/>
<clipPath id="cr"><circle cx="555.1" cy="124.8" r="92.1"/></clipPath>
<circle cx="555.1" cy="124.8" r="92.1" fill="#ffffff"/>
<g clip-path="url(#cr)">
<polygon points="455,109.3 548,152.7 548,171.2 455,127.8" fill="#7a4220"/>
<polygon points="455,110.3 548,153.7 548,170.2 455,126.8" fill="#f3994c"/>
<line x1="455" y1="111.9" x2="548" y2="155.3" stroke="#f6b27a" stroke-width="1"/>
<line x1="455" y1="129.4" x2="548" y2="172.8" stroke="#8d8f92" stroke-width="0.9"/>
<line x1="455" y1="106.1" x2="548" y2="149.5" stroke="#7d878d" stroke-width="1.0"/>
<polygon points="560,165.7 660,218.4 660,235.4 560,182.7" fill="#7a4220"/>
<polygon points="560,166.7 660,219.4 660,234.4 560,181.7" fill="#f3994c"/>
<line x1="560" y1="168.3" x2="660" y2="221" stroke="#f6b27a" stroke-width="1"/>
<line x1="560" y1="184.3" x2="660" y2="237" stroke="#8d8f92" stroke-width="0.9"/>
<line x1="560" y1="162.5" x2="660" y2="215.2" stroke="#7d878d" stroke-width="1.0"/>
<polygon points="440,86.8 499,114.4 499,119.4 440,91.8" fill="#3f767c" stroke="#23474b" stroke-width="0.9"/>
<line x1="440" y1="88.8" x2="499" y2="116.4" stroke="#6f9fa6" stroke-width="0.7"/>
<polygon points="499,114.4 539.5,133.3 539.5,138.3 499,119.4" fill="#3f767c" stroke="#23474b" stroke-width="0.9"/>
<line x1="499" y1="116.4" x2="539.5" y2="135.3" stroke="#6f9fa6" stroke-width="0.7"/>
<polygon points="556,148.3 621,180.8 621,185.8 556,153.3" fill="#3f767c" stroke="#23474b" stroke-width="0.9"/>
<line x1="556" y1="150.3" x2="621" y2="182.8" stroke="#6f9fa6" stroke-width="0.7"/>
<polygon points="621,180.8 660,200.3 660,205.3 621,185.8" fill="#3f767c" stroke="#23474b" stroke-width="0.9"/>
<line x1="621" y1="182.8" x2="660" y2="202.3" stroke="#6f9fa6" stroke-width="0.7"/>
<polygon points="539.4,133.3 541,134 541,139 539.4,138.3" fill="#3f767c" stroke="#23474b" stroke-width="0.6"/>
<polygon points="448.5,100.8 456.5,104.5 456.5,111.5 448.5,107.8" fill="#c8703e" stroke="#5e2e14" stroke-width="0.7"/>
<line x1="448.5" y1="100.8" x2="456.5" y2="111.5" stroke="#5e2e14" stroke-width="0.7"/>
<line x1="456.5" y1="104.5" x2="448.5" y2="107.8" stroke="#5e2e14" stroke-width="0.7"/>
<polygon points="447,93.6 460,99.7 460,106.7 447,100.6" fill="#3c6f75" stroke="#1d3a3e" stroke-width="0.9"/>
<circle cx="450" cy="98.5" r="0.9" fill="#a8c4c8"/>
<circle cx="453.5" cy="100.1" r="0.9" fill="#a8c4c8"/>
<circle cx="457" cy="101.8" r="0.9" fill="#a8c4c8"/>
<polygon points="487.5,119 495.5,122.8 495.5,129.8 487.5,126" fill="#c8703e" stroke="#5e2e14" stroke-width="0.7"/>
<line x1="487.5" y1="119" x2="495.5" y2="129.8" stroke="#5e2e14" stroke-width="0.7"/>
<line x1="495.5" y1="122.8" x2="487.5" y2="126" stroke="#5e2e14" stroke-width="0.7"/>
<polygon points="486,111.8 499,117.9 499,124.9 486,118.8" fill="#3c6f75" stroke="#1d3a3e" stroke-width="0.9"/>
<circle cx="489" cy="116.7" r="0.9" fill="#a8c4c8"/>
<circle cx="492.5" cy="118.4" r="0.9" fill="#a8c4c8"/>
<circle cx="496" cy="120" r="0.9" fill="#a8c4c8"/>
<polygon points="528.1,138 536.1,141.7 536.1,148.7 528.1,145" fill="#c8703e" stroke="#5e2e14" stroke-width="0.7"/>
<line x1="528.1" y1="138" x2="536.1" y2="148.7" stroke="#5e2e14" stroke-width="0.7"/>
<line x1="536.1" y1="141.7" x2="528.1" y2="145" stroke="#5e2e14" stroke-width="0.7"/>
<polygon points="526.6,130.8 539.6,136.9 539.6,143.9 526.6,137.8" fill="#3c6f75" stroke="#1d3a3e" stroke-width="0.9"/>
<circle cx="529.6" cy="135.7" r="0.9" fill="#a8c4c8"/>
<circle cx="533.1" cy="137.3" r="0.9" fill="#a8c4c8"/>
<circle cx="536.6" cy="139" r="0.9" fill="#a8c4c8"/>
<circle cx="613.5" cy="190.8" r="3.5" fill="#e48a52" stroke="#6b3518" stroke-width="0.8"/>
<line x1="611.2" y1="188.4" x2="615.8" y2="193.1" stroke="#6b3518" stroke-width="0.7"/>
<line x1="611.2" y1="193.1" x2="615.8" y2="188.4" stroke="#6b3518" stroke-width="0.7"/>
<polygon points="608,177.8 621,184.3 621,191.3 608,184.8" fill="#3c6f75" stroke="#1d3a3e" stroke-width="0.9"/>
<circle cx="611" cy="182.8" r="0.9" fill="#a8c4c8"/>
<circle cx="614.5" cy="184.6" r="0.9" fill="#a8c4c8"/>
<circle cx="618" cy="186.3" r="0.9" fill="#a8c4c8"/>
<circle cx="653.5" cy="210.8" r="3.5" fill="#e48a52" stroke="#6b3518" stroke-width="0.8"/>
<line x1="651.2" y1="208.4" x2="655.8" y2="213.1" stroke="#6b3518" stroke-width="0.7"/>
<line x1="651.2" y1="213.1" x2="655.8" y2="208.4" stroke="#6b3518" stroke-width="0.7"/>
<polygon points="648,197.8 661,204.3 661,211.3 648,204.8" fill="#3c6f75" stroke="#1d3a3e" stroke-width="0.9"/>
<circle cx="651" cy="202.8" r="0.9" fill="#a8c4c8"/>
<circle cx="654.5" cy="204.6" r="0.9" fill="#a8c4c8"/>
<circle cx="658" cy="206.3" r="0.9" fill="#a8c4c8"/>
<circle cx="572" cy="166.4" r="3.5" fill="#e48a52" stroke="#6b3518" stroke-width="0.8"/>
<line x1="569.7" y1="164.1" x2="574.3" y2="168.7" stroke="#6b3518" stroke-width="0.7"/>
<line x1="569.7" y1="168.7" x2="574.3" y2="164.1" stroke="#6b3518" stroke-width="0.7"/>
<rect x="540" y="78" width="4.6" height="124.5" fill="#b98048" stroke="#5a3a20" stroke-width="0.8"/>
<circle cx="542.3" cy="80" r="0.75" fill="#f2dcae"/>
<circle cx="542.3" cy="82.4" r="0.75" fill="#f2dcae"/>
<circle cx="542.3" cy="84.8" r="0.75" fill="#f2dcae"/>
<circle cx="542.3" cy="87.2" r="0.75" fill="#f2dcae"/>
<circle cx="542.3" cy="89.6" r="0.75" fill="#f2dcae"/>
<circle cx="542.3" cy="92" r="0.75" fill="#f2dcae"/>
<circle cx="542.3" cy="94.4" r="0.75" fill="#f2dcae"/>
<circle cx="542.3" cy="96.8" r="0.75" fill="#f2dcae"/>
<circle cx="542.3" cy="99.2" r="0.75" fill="#f2dcae"/>
<circle cx="542.3" cy="101.6" r="0.75" fill="#f2dcae"/>
<circle cx="542.3" cy="104" r="0.75" fill="#f2dcae"/>
<circle cx="542.3" cy="106.4" r="0.75" fill="#f2dcae"/>
<circle cx="542.3" cy="108.8" r="0.75" fill="#f2dcae"/>
<circle cx="542.3" cy="111.2" r="0.75" fill="#f2dcae"/>
<circle cx="542.3" cy="113.6" r="0.75" fill="#f2dcae"/>
<circle cx="542.3" cy="116" r="0.75" fill="#f2dcae"/>
<circle cx="542.3" cy="118.4" r="0.75" fill="#f2dcae"/>
<circle cx="542.3" cy="120.8" r="0.75" fill="#f2dcae"/>
<circle cx="542.3" cy="123.2" r="0.75" fill="#f2dcae"/>
<circle cx="542.3" cy="125.6" r="0.75" fill="#f2dcae"/>
<circle cx="542.3" cy="128" r="0.75" fill="#f2dcae"/>
<circle cx="542.3" cy="130.4" r="0.75" fill="#f2dcae"/>
<circle cx="542.3" cy="132.8" r="0.75" fill="#f2dcae"/>
<circle cx="542.3" cy="135.2" r="0.75" fill="#f2dcae"/>
<circle cx="542.3" cy="137.6" r="0.75" fill="#f2dcae"/>
<circle cx="542.3" cy="140" r="0.75" fill="#f2dcae"/>
<circle cx="542.3" cy="142.4" r="0.75" fill="#f2dcae"/>
<circle cx="542.3" cy="144.8" r="0.75" fill="#f2dcae"/>
<circle cx="542.3" cy="147.2" r="0.75" fill="#f2dcae"/>
<circle cx="542.3" cy="149.6" r="0.75" fill="#f2dcae"/>
<circle cx="542.3" cy="152" r="0.75" fill="#f2dcae"/>
<circle cx="542.3" cy="154.4" r="0.75" fill="#f2dcae"/>
<circle cx="542.3" cy="156.8" r="0.75" fill="#f2dcae"/>
<circle cx="542.3" cy="159.2" r="0.75" fill="#f2dcae"/>
<circle cx="542.3" cy="161.6" r="0.75" fill="#f2dcae"/>
<circle cx="542.3" cy="164" r="0.75" fill="#f2dcae"/>
<circle cx="542.3" cy="166.4" r="0.75" fill="#f2dcae"/>
<circle cx="542.3" cy="168.8" r="0.75" fill="#f2dcae"/>
<circle cx="542.3" cy="171.2" r="0.75" fill="#f2dcae"/>
<circle cx="542.3" cy="173.6" r="0.75" fill="#f2dcae"/>
<circle cx="542.3" cy="176" r="0.75" fill="#f2dcae"/>
<circle cx="542.3" cy="178.4" r="0.75" fill="#f2dcae"/>
<circle cx="542.3" cy="180.8" r="0.75" fill="#f2dcae"/>
<circle cx="542.3" cy="183.2" r="0.75" fill="#f2dcae"/>
<circle cx="542.3" cy="185.6" r="0.75" fill="#f2dcae"/>
<circle cx="542.3" cy="188" r="0.75" fill="#f2dcae"/>
<circle cx="542.3" cy="190.4" r="0.75" fill="#f2dcae"/>
<circle cx="542.3" cy="192.8" r="0.75" fill="#f2dcae"/>
<circle cx="542.3" cy="195.2" r="0.75" fill="#f2dcae"/>
<circle cx="542.3" cy="197.6" r="0.75" fill="#f2dcae"/>
<circle cx="542.3" cy="200" r="0.75" fill="#f2dcae"/>
<rect x="565.2" y="155" width="5.4" height="47.5" fill="#b98048" stroke="#5a3a20" stroke-width="0.8"/>
<circle cx="567.9" cy="157" r="0.75" fill="#f2dcae"/>
<circle cx="567.9" cy="159.4" r="0.75" fill="#f2dcae"/>
<circle cx="567.9" cy="161.8" r="0.75" fill="#f2dcae"/>
<circle cx="567.9" cy="164.2" r="0.75" fill="#f2dcae"/>
<circle cx="567.9" cy="166.6" r="0.75" fill="#f2dcae"/>
<circle cx="567.9" cy="169" r="0.75" fill="#f2dcae"/>
<circle cx="567.9" cy="171.4" r="0.75" fill="#f2dcae"/>
<circle cx="567.9" cy="173.8" r="0.75" fill="#f2dcae"/>
<circle cx="567.9" cy="176.2" r="0.75" fill="#f2dcae"/>
<circle cx="567.9" cy="178.6" r="0.75" fill="#f2dcae"/>
<circle cx="567.9" cy="181" r="0.75" fill="#f2dcae"/>
<circle cx="567.9" cy="183.4" r="0.75" fill="#f2dcae"/>
<circle cx="567.9" cy="185.8" r="0.75" fill="#f2dcae"/>
<circle cx="567.9" cy="188.2" r="0.75" fill="#f2dcae"/>
<circle cx="567.9" cy="190.6" r="0.75" fill="#f2dcae"/>
<circle cx="567.9" cy="193" r="0.75" fill="#f2dcae"/>
<circle cx="567.9" cy="195.4" r="0.75" fill="#f2dcae"/>
<circle cx="567.9" cy="197.8" r="0.75" fill="#f2dcae"/>
<circle cx="567.9" cy="200.2" r="0.75" fill="#f2dcae"/>
<rect x="544.6" y="78" width="20.6" height="125" fill="#c5d9e3" stroke="#6f8894" stroke-width="0.8"/>
<rect x="540.3" y="202.5" width="29.8" height="20" fill="#c3d7e0" stroke="#3f5a66" stroke-width="1.0"/>
<line x1="555.2" y1="202.5" x2="555.2" y2="223" stroke="#3f5a66" stroke-width="0.9"/>
<line x1="544.6" y1="172" x2="565.2" y2="172" stroke="#7f98a4" stroke-width="0.8"/>
<line x1="544.6" y1="186" x2="565.2" y2="186" stroke="#7f98a4" stroke-width="0.8"/>
<line x1="544.6" y1="196" x2="565.2" y2="196" stroke="#7f98a4" stroke-width="0.8"/>
<line x1="555.2" y1="150" x2="555.2" y2="202" stroke="#8ea6b2" stroke-width="0.8"/>
<path d="M555.2,78 H570.6 V135 Q572.5,141 570.6,150 H555.2 Z" fill="#5892a1" stroke="#1f3e47" stroke-width="0.9"/>
<line x1="556" y1="137" x2="571" y2="137" stroke="#1f3e47" stroke-width="0.7"/>
<line x1="562" y1="80" x2="562" y2="130" stroke="#6c9fae" stroke-width="1.2"/>
<polygon points="555.2,146 570.6,149 579,153.5 579,158 570.6,155 555.2,152" fill="#3c6f75" stroke="#1d3a3e" stroke-width="0.8"/>
<line x1="544" y1="153.8" x2="566.3" y2="164.8" stroke="#111" stroke-width="2"/>
<path d="M533.9,67 L536.5,48 Q537.5,42 543,42 H567.5 Q573,42 574,48 L576.5,67 Z" fill="#5892a1" stroke="#1f3e47" stroke-width="1"/>
<rect x="535.6" y="66.8" width="39.4" height="11.6" fill="#4f8696" stroke="#1f3e47" stroke-width="0.9"/>
<line x1="533.9" y1="66.8" x2="576.5" y2="66.8" stroke="#1f3e47" stroke-width="1.4"/>
<line x1="540" y1="50" x2="571" y2="50" stroke="#79a9b6" stroke-width="1"/>
<circle cx="555.2" cy="66.8" r="1.6" fill="#1f3e47"/>
<line x1="555.2" y1="31" x2="555.2" y2="76" stroke="#53595d" stroke-width="0.9"/>
<path d="M536,74 Q532,81 537,85 L540.5,85" fill="none" stroke="#24363c" stroke-width="0.9"/>
</g>
<circle cx="555.1" cy="124.8" r="92.1" fill="none" stroke="#3f4448" stroke-width="1"/>
<g transform="translate(496.8,434.5) rotate(-20)"><rect x="-14.5" y="-14.5" width="29" height="29" rx="2" fill="#ffffff" fill-opacity="0.55" stroke="#d9dadb" stroke-width="4.2"/><path d="M-11,-1.5 L0,-11.5 L11,-1.5 L8.5,-1.5 L8.5,10 L-8.5,10 L-8.5,-1.5 Z" fill="#fbfbfb" stroke="#d3d4d5" stroke-width="2.2" stroke-linejoin="round"/><rect x="-6.3" y="-1" width="5.6" height="4.8" fill="#c6c8ca"/><rect x="0.7" y="-1" width="5.6" height="4.8" fill="#c6c8ca"/><rect x="-6.3" y="5" width="5.6" height="4.8" fill="#c6c8ca"/><rect x="0.7" y="5" width="5.6" height="4.8" fill="#c6c8ca"/></g>
<text x="532" y="432.5" font-size="21.5" font-style="italic" font-family="Liberation Sans, sans-serif" font-weight="bold" fill="#fbfbfb" fill-opacity="0.85" stroke="#cfd1d3" stroke-width="1.0">Как</text>
<text x="569" y="438.2" font-size="17" font-style="italic" textLength="89" lengthAdjust="spacingAndGlyphs" font-family="Liberation Sans, sans-serif" font-weight="bold" fill="#c6c8ca">правильно</text>
<text x="532" y="452.5" font-size="21.5" font-style="italic" font-family="Liberation Sans, sans-serif" font-weight="bold" fill="#ffffff" fill-opacity="0.5" stroke="#e2e3e4" stroke-width="0.9">Сделать</text>
<path d="M285.6,120.3 Q275,110 262.5,113.6" fill="none" stroke="#6b6468" stroke-width="1.0" stroke-linecap="round"/>
<polygon points="262.5,113.6 266.1,114.4 265.1,111" fill="#6b6468"/>
<path d="M303.5,113.6 Q300,102 291.6,97.6" fill="none" stroke="#6b6468" stroke-width="1.0" stroke-linecap="round"/>
<polygon points="291.6,97.6 293.6,100.6 295.3,97.5" fill="#6b6468"/>
<path d="M314,109.9 Q312,101 304,94.9" fill="none" stroke="#6b6468" stroke-width="1.0" stroke-linecap="round"/>
<polygon points="304,94.9 305.5,98.2 307.6,95.4" fill="#6b6468"/>
<path d="M326.3,108.4 Q329,95 339.3,88.2" fill="none" stroke="#6b6468" stroke-width="1.0" stroke-linecap="round"/>
<polygon points="339.3,88.2 335.7,88.5 337.6,91.4" fill="#6b6468"/>
<path d="M331.9,115 Q338,106 349,102.7" fill="none" stroke="#6b6468" stroke-width="1.0" stroke-linecap="round"/>
<polygon points="349,102.7 345.4,101.9 346.4,105.3" fill="#6b6468"/>
<path d="M369.4,113.3 Q367,100 355.4,96.2" fill="none" stroke="#6b6468" stroke-width="1.0" stroke-linecap="round"/>
<polygon points="355.4,96.2 357.9,98.9 359,95.5" fill="#6b6468"/>
<path d="M383.5,113.3 Q390,100 404.8,96.6" fill="none" stroke="#6b6468" stroke-width="1.0" stroke-linecap="round"/>
<polygon points="404.8,96.6 401.3,95.6 402.1,99" fill="#6b6468"/>
<path d="M101.3,280 Q114,270 130.8,270.5" fill="none" stroke="#2f7fd0" stroke-width="1.1" stroke-linecap="round"/>
<polygon points="130.8,270.5 127.7,268.6 127.5,272.2" fill="#2f7fd0"/>
<path d="M155,270.2 Q170,271 175.4,280.6" fill="none" stroke="#2f7fd0" stroke-width="1.1" stroke-linecap="round"/>
<polygon points="175.4,280.6 175.4,276.9 172.3,278.7" fill="#2f7fd0"/>
<path d="M112.5,370 Q122,369 131,375.6" fill="none" stroke="#2f7fd0" stroke-width="1.1" stroke-linecap="round"/>
<polygon points="131,375.6 129.5,372.3 127.4,375.1" fill="#2f7fd0"/>
<path d="M159,411.4 Q168,410 177.6,411.2" fill="none" stroke="#2f7fd0" stroke-width="1.1" stroke-linecap="round"/>
<polygon points="177.6,411.2 174.6,409.1 174.2,412.5" fill="#2f7fd0"/>
<path d="M558.2,278 Q552,266 539,267.8" fill="none" stroke="#2f7fd0" stroke-width="1.1" stroke-linecap="round"/>
<polygon points="539,267.8 542.4,269.1 541.9,265.6" fill="#2f7fd0"/>
<path d="M518.6,269 Q508,268 502.2,275.8" fill="none" stroke="#2f7fd0" stroke-width="1.1" stroke-linecap="round"/>
<polygon points="502.2,275.8 505.5,274.3 502.7,272.2" fill="#2f7fd0"/>
<path d="M566,370.7 Q556,374 546.7,373.7" fill="none" stroke="#2f7fd0" stroke-width="1.1" stroke-linecap="round"/>
<polygon points="546.7,373.7 549.8,375.6 550,372" fill="#2f7fd0"/>
<path d="M512.4,413 Q503,412.6 494.5,413" fill="none" stroke="#2f7fd0" stroke-width="1.1" stroke-linecap="round"/>
<polygon points="494.5,413 497.8,414.6 497.6,411.1" fill="#2f7fd0"/>
<path d="M182,285.2 Q196,287 197.5,273.6" fill="none" stroke="#6b6468" stroke-width="1.0" stroke-linecap="round"/>
<polygon points="197.5,273.6 195.4,276.6 198.9,277" fill="#6b6468"/>
<path d="M176.2,290 Q188,305 187.8,325" fill="none" stroke="#6b6468" stroke-width="1.0" stroke-linecap="round"/>
<polygon points="187.8,325 189.6,321.8 186.1,321.8" fill="#6b6468"/>
<path d="M190.7,295 Q200,311 219.8,318.2" fill="none" stroke="#6b6468" stroke-width="1.0" stroke-linecap="round"/>
<polygon points="219.8,318.2 217.4,315.5 216.2,318.8" fill="#6b6468"/>
<path d="M247.2,333.6 Q266,341 281.6,328.4" fill="none" stroke="#6b6468" stroke-width="1.0" stroke-linecap="round"/>
<polygon points="281.6,328.4 278,329 280.2,331.8" fill="#6b6468"/>
<path d="M188.7,339.8 Q193,360 208.5,371.8" fill="none" stroke="#6b6468" stroke-width="1.0" stroke-linecap="round"/>
<polygon points="208.5,371.8 207,368.5 204.9,371.3" fill="#6b6468"/>
<path d="M219,381.6 Q233,387 234.6,371.2" fill="none" stroke="#6b6468" stroke-width="1.0" stroke-linecap="round"/>
<polygon points="234.6,371.2 232.5,374.2 236,374.6" fill="#6b6468"/>
<path d="M343,301.6 Q337,285 333.3,272.5" fill="none" stroke="#6b6468" stroke-width="1.0" stroke-linecap="round"/>
<polygon points="333.3,272.5 332.5,276.1 335.9,275.1" fill="#6b6468"/>
<path d="M358.8,343.2 Q359,320 348.5,304.4" fill="none" stroke="#6b6468" stroke-width="1.0" stroke-linecap="round"/>
<polygon points="348.5,304.4 348.8,308 351.7,306.1" fill="#6b6468"/>
<path d="M369.3,382 Q361,377 359.6,365.3" fill="none" stroke="#6b6468" stroke-width="1.0" stroke-linecap="round"/>
<polygon points="359.6,365.3 358.2,368.7 361.7,368.3" fill="#6b6468"/>
<path d="M410.9,310 Q416,290 413.7,271" fill="none" stroke="#6b6468" stroke-width="1.0" stroke-linecap="round"/>
<polygon points="413.7,271 412.3,274.4 415.8,274" fill="#6b6468"/>
<path d="M419.2,382 Q400,360 399.8,334.9" fill="none" stroke="#6b6468" stroke-width="1.0" stroke-linecap="round"/>
<polygon points="399.8,334.9 398.1,338.1 401.6,338.1" fill="#6b6468"/>
<path d="M495.5,285.9 Q484,303 450.9,303.2" fill="none" stroke="#6b6468" stroke-width="1.0" stroke-linecap="round"/>
<polygon points="450.9,303.2 454.1,304.9 454.1,301.4" fill="#6b6468"/>
<path d="M495.5,307.5 Q495,335 482.6,357.9" fill="none" stroke="#6b6468" stroke-width="1.0" stroke-linecap="round"/>
<polygon points="482.6,357.9 485.7,355.9 482.6,354.2" fill="#6b6468"/>
<path d="M471,375.2 Q455,385 435,385.3" fill="none" stroke="#6b6468" stroke-width="1.0" stroke-linecap="round"/>
<polygon points="435,385.3 438.2,387 438.2,383.5" fill="#6b6468"/>
<path d="M183.6,413.6 Q195,422 210.5,424.4" fill="none" stroke="#6b6468" stroke-width="1.0" stroke-linecap="round"/>
<polygon points="210.5,424.4 207.6,422.2 207.1,425.6" fill="#6b6468"/>
<path d="M222.6,428.4 Q240,428 252.2,420.3" fill="none" stroke="#6b6468" stroke-width="1.0" stroke-linecap="round"/>
<polygon points="252.2,420.3 248.6,420.5 250.4,423.5" fill="#6b6468"/>
<path d="M260.2,416.3 Q272,411 285.7,411.7" fill="none" stroke="#6b6468" stroke-width="1.0" stroke-linecap="round"/>
<polygon points="285.7,411.7 282.6,409.8 282.4,413.3" fill="#6b6468"/>
<path d="M337.5,421.1 Q330,411 317.3,410.7" fill="none" stroke="#6b6468" stroke-width="1.0" stroke-linecap="round"/>
<polygon points="317.3,410.7 320.5,412.5 320.5,409" fill="#6b6468"/>
<path d="M365.8,438.3 Q352,434 345.7,426.3" fill="none" stroke="#6b6468" stroke-width="1.0" stroke-linecap="round"/>
<polygon points="345.7,426.3 346.4,429.9 349.1,427.7" fill="#6b6468"/>
<path d="M403.7,428.2 Q395,436 381,438.1" fill="none" stroke="#6b6468" stroke-width="1.0" stroke-linecap="round"/>
<polygon points="381,438.1 384.4,439.4 383.9,435.9" fill="#6b6468"/>
<path d="M450.5,415.5 Q438,415 426.4,421.1" fill="none" stroke="#6b6468" stroke-width="1.0" stroke-linecap="round"/>
<polygon points="426.4,421.1 430.1,421.2 428.4,418.1" fill="#6b6468"/>
<path d="M330,414 Q334,417 336,421" fill="none" stroke="#6b6468" stroke-width="1"/>
<path d="M25,456.5 L116.4,448 L557,448 L649.3,456.6" fill="none" stroke="#6f7478" stroke-width="1.1"/>
<path d="M29.8,450.4 L35.1,455.2 L36,439.1 L38.1,452.2 L40.5,445.1 L44.1,451 L48.3,444.5 L50.7,451.6 L56.6,442.1 L67.4,452.2 L70.4,449.9 L72.8,451.6 L77.5,448.7 L79.3,442.1 L81.1,451 L83.5,439.1 L85.3,450.4 L87.7,443.9 L89.5,448.7 L92.5,430.1 L93.7,445.7 L94.9,451.6" fill="none" stroke="#4d4f52" stroke-width="1.1" stroke-linejoin="miter"/>
<path d="M580,448.9 L580.8,446.2 L582.8,430.8 L587.5,449.6 L590.8,438.8 L592.8,451.6 L596.2,441.5 L598.2,450.9 L602.3,448.9 L605.6,450.9 L610.3,448.9 L617.7,442.2 L620.4,450.9 L626.5,443.5 L633.2,450.2 L639.9,439.5 L639.9,455 L645.3,450.2" fill="none" stroke="#4d4f52" stroke-width="1.1"/>
<rect x="0.5" y="0.5" width="668.5" height="467.5" fill="none" stroke="#dadada" stroke-width="1.2"/>
<rect x="668.6" y="0" width="1.4" height="469" fill="#e6e6e6"/>
<rect x="0" y="467.6" width="670" height="1.4" fill="#e6e6e6"/>
</svg>
</body></html>
